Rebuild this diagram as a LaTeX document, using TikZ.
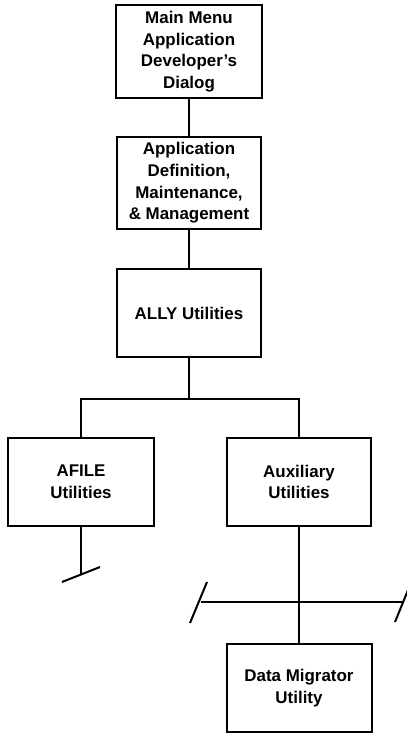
\documentclass[tikz,border=0pt]{standalone}
\usepackage{fontspec}
\setmainfont{Liberation Sans}
\begin{document}
\begin{tikzpicture}[x=1bp,y=-1bp,
  box/.style={draw, line width=2bp, inner sep=0pt, align=center,
    font=\bfseries\fontsize{17}{21.7}\selectfont},
  conn/.style={line width=2bp}]
\useasboundingbox (0,0) rectangle (406,733);
\node[box, minimum width=146bp, minimum height=93bp] (b1) at (189,51.5) {Main Menu\\Application\\Developer's\\Dialog};
\node[box, minimum width=144bp, minimum height=92bp] (b2) at (189,183) {Application\\Definition,\\Maintenance,\\\& Management};
\node[box, minimum width=144bp, minimum height=88bp] (b3) at (189,313) {ALLY Utilities};
\node[box, minimum width=146bp, minimum height=88bp] (afile) at (81,482) {AFILE\\Utilities};
\node[box, minimum width=144bp, minimum height=88bp] (aux) at (299,482) {Auxiliary\\Utilities};
\node[box, minimum width=145bp, minimum height=88bp] (dm) at (299,688) {Data Migrator\\Utility};
\coordinate (j) at (189,399);
\coordinate (a1) at (81,575);
\coordinate (s1a) at (62,582);
\coordinate (s1b) at (100,567);
\coordinate (ml) at (201,602);
\coordinate (mr) at (403,602);
\coordinate (s2a) at (190,623);
\coordinate (s2b) at (207,582);
\coordinate (s3a) at (395,622);
\coordinate (s3b) at (408,590);
\draw[conn] (b1.south) -- (b2.north);
\draw[conn] (b2.south) -- (b3.north);
\draw[conn] (b3.south) -- (j);
\draw[conn] (afile.north) |- (j) -| (aux.north);
\draw[conn] (afile.south) -- (a1);
\draw[conn] (s1a) -- (s1b);
\draw[conn] (aux.south) -- (dm.north);
\draw[conn] (ml) -- (mr);
\draw[conn] (s2a) -- (s2b);
\draw[conn] (s3a) -- (s3b);
\end{tikzpicture}
\end{document}
